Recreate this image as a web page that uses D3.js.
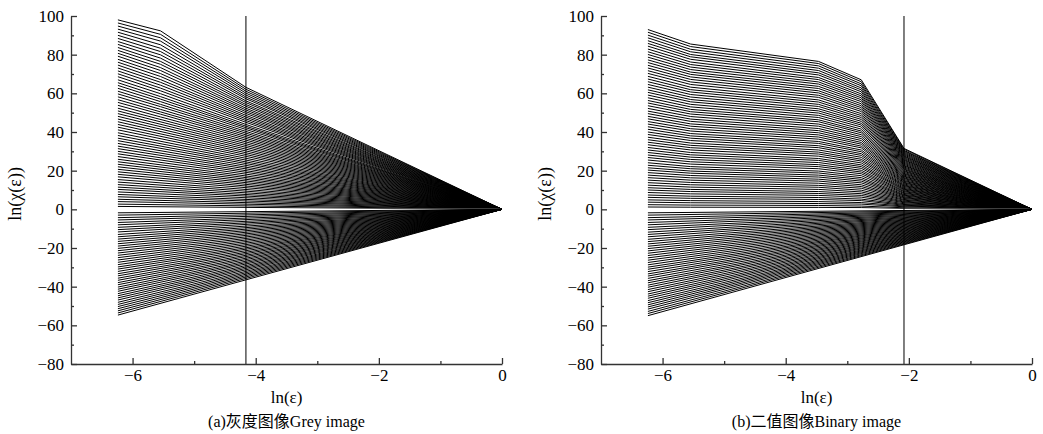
<!DOCTYPE html>
<html><head><meta charset="utf-8">
<script src="https://cdn.jsdelivr.net/npm/d3@7"></script>
<style>
body{margin:0;background:#fff;}
svg text{font-family:"Liberation Serif","Times New Roman",serif;fill:#000;}
</style></head><body>
<svg id="chart" width="1043" height="434"></svg>
<script>
// box sizes: ln(eps) = ln(1/512) ... ln(1/1)
const lnEpsKnots = [-6.238, -5.545, -4.852, -4.159, -3.466, -2.773, -2.079, -1.386, -0.693, 0];

// ---- (a) Grey image: value of each curve at ln(eps) = -6.238 (top to bottom)
const greyLeft = [
  98.0, 96.4, 94.8, 93.2, 91.6, 90.0, 88.4, 86.8, 85.3, 83.7,
  82.2, 80.7, 79.2, 77.6, 76.1, 74.6, 73.1, 71.6, 70.1, 68.6,
  67.0, 65.5, 64.1, 62.6, 61.1, 59.7, 58.2, 56.7, 55.3, 53.8,
  52.3, 50.9, 49.5, 48.1, 46.7, 45.3, 43.9, 42.5, 41.1, 39.6,
  38.2, 36.8, 35.5, 34.1, 32.7, 31.4, 30.0, 28.7, 27.3, 25.9,
  24.6, 23.3, 22.0, 20.7, 19.4, 18.1, 16.8, 15.4, 14.1, 12.8,
  11.5, 10.3, 9.0, 7.7, 6.5, 5.2, 4.0, 2.7, 1.5,
  0.0,
  -1.8, -3.0, -4.3, -5.5, -6.8, -8.0, -9.3, -10.5, -11.7, -13.0,
  -14.2, -15.4, -16.6, -17.8, -19.0, -20.2, -21.4, -22.6, -23.8, -25.0,
  -26.2, -27.4, -28.6, -29.8, -30.9, -32.1, -33.3, -34.4, -35.6, -36.7,
  -37.9, -39.0, -40.2, -41.3, -42.4, -43.6, -44.7, -45.8, -46.9, -48.1,
  -49.2, -50.3, -51.4, -52.5, -53.6, -54.7
];
// bent upper curves: values at ln(eps) = -5.545 and -4.159
const greyAt555 = [92.3, 90.5, 88.7, 87.0, 85.1, 83.3, 81.6, 79.9, 78.2, 76.5,
  75.0, 73.3, 71.8, 70.2, 68.7, 67.1, 65.7, 64.2, 62.7, 61.3,
  59.8, 58.3, 57.0, 55.7, 54.3, 53.1, 51.7, 50.4, 49.2, 47.8];
const greyAt416 = [63.1, 62.1, 61.1, 60.1, 59.1, 58.1, 57.2, 56.1, 55.2, 54.2,
  53.3, 52.3, 51.4, 50.5, 49.6, 48.6, 47.7, 46.8, 45.9, 45.0,
  43.9, 43.0, 42.2, 41.3, 40.3, 39.4, 38.5, 37.6, 36.7, 35.8];

// ---- (b) Binary image
const binaryLeft = [
  93.0, 91.6, 90.1, 88.7, 87.2, 85.8, 84.4, 82.9, 81.5, 80.1,
  78.7, 77.3, 75.9, 74.5, 73.1, 71.7, 70.3, 68.8, 67.4, 66.0,
  64.6, 63.2, 61.8, 60.5, 59.1, 57.7, 56.3, 55.0, 53.6, 52.2,
  50.8, 49.5, 48.1, 46.8, 45.4, 44.1, 42.7, 41.4, 40.0, 38.7,
  37.3, 36.0, 34.7, 33.4, 32.0, 30.7, 29.4, 28.1, 26.8, 25.5,
  24.1, 22.8, 21.5, 20.3, 19.0, 17.7, 16.4, 15.1, 13.8, 12.5,
  11.2, 10.0, 8.7, 7.4, 6.2, 4.9, 3.7, 2.4, 1.2,
  0.0,
  -1.8, -3.0, -4.3, -5.5, -6.8, -8.0, -9.3, -10.5, -11.8, -13.0,
  -14.2, -15.5, -16.7, -17.9, -19.1, -20.3, -21.5, -22.7, -23.9, -25.1,
  -26.3, -27.5, -28.7, -29.9, -31.0, -32.2, -33.4, -34.5, -35.7, -36.9,
  -38.0, -39.2, -40.3, -41.5, -42.6, -43.8, -44.9, -46.0, -47.2, -48.3,
  -49.4, -50.5, -51.6, -52.8, -53.9, -55.0
];
const binaryAt555 = [85.5, 84.2, 82.8, 81.5, 80.1, 78.9, 77.6, 76.2, 74.9, 73.6,
  72.3, 71.0, 69.8, 68.5, 67.2, 65.9, 64.6, 63.2, 61.9, 60.7,
  59.4, 58.1, 56.8, 55.6, 54.3, 53.0, 51.7, 50.5, 49.3, 48.0,
  46.7, 45.5, 44.2, 43.0, 41.7, 40.5, 39.2, 38.0, 36.8, 35.6,
  34.3, 33.1, 31.9, 30.7, 29.4, 28.2, 27.0, 25.8, 24.6, 23.4,
  22.1, 21.0, 19.8, 18.7, 17.5, 16.3, 15.1, 13.9, 12.7, 11.5,
  10.3, 9.2, 8.0, 6.8, 5.7, 4.5, 3.4, 2.2, 1.1];
const binaryAt347 = [76.5, 75.4, 74.2, 73.0, 71.8, 70.6, 69.5, 68.2, 67.1, 65.9,
  64.8, 63.6, 62.5, 61.3, 60.2, 59.0, 57.9, 56.6, 55.5, 54.3,
  53.2, 52.0, 50.9, 49.8, 48.6, 47.5, 46.3, 45.3, 44.1, 43.0,
  41.8, 40.7, 39.6, 38.5, 37.4, 36.3, 35.1, 34.1, 32.9, 31.9,
  30.7, 29.6, 28.6, 27.5, 26.3, 25.3, 24.2, 23.1, 22.1, 21.0,
  19.8, 18.8, 17.7, 16.7, 15.6, 14.6, 13.5, 12.4, 11.4, 10.3,
  9.2, 8.2, 7.2, 6.1, 5.1, 4.0, 3.0, 2.0, 1.0];
const binaryAt277 = [67.0, 66.0, 64.9, 63.9, 62.8, 61.8, 60.8, 59.7, 58.7, 57.7,
  56.7, 55.7, 54.6, 53.6, 52.6, 51.6, 50.6, 49.5, 48.5, 47.5,
  46.5, 45.5, 44.5, 43.6, 42.6, 41.5, 40.5, 39.6, 38.6, 37.6,
  36.6, 35.6, 34.6, 33.7, 32.7, 31.8, 30.7, 29.8, 28.8, 27.9,
  26.9, 25.9, 25.0, 24.0, 23.0, 22.1, 21.2, 20.2, 19.3, 18.4,
  17.4, 16.4, 15.5, 14.6, 13.7, 12.7, 11.8, 10.9, 9.9, 9.0,
  8.1, 7.2, 6.3, 5.3, 4.5, 3.5, 2.7, 1.7, 0.9];
const binaryAt208 = [31.5, 31.1, 30.5, 30.1, 29.6, 29.1, 28.6, 28.1, 27.6, 27.2,
  26.7, 26.2, 25.7, 25.3, 24.8, 24.3, 23.8, 23.3, 22.8, 22.4,
  21.9, 21.4, 20.9, 20.5, 20.0, 19.6, 19.1, 18.6, 18.2, 17.7,
  17.2, 16.8, 16.3, 15.9, 15.4, 14.9, 14.5, 14.0, 13.6, 13.1,
  12.6, 12.2, 11.8, 11.3, 10.8, 10.4, 10.0, 9.5, 9.1, 8.6,
  8.2, 7.7, 7.3, 6.9, 6.4, 6.0, 5.6, 5.1, 4.7, 4.2,
  3.8, 3.4, 2.9, 2.5, 2.1, 1.7, 1.3, 0.8, 0.4];

// scale-break markers and axes
const cutoffGrey = -4.159;
const cutoffBinary = -2.079;
const xTicks = [-6, -4, -2, 0];
const xMinorTicks = [-5, -3, -1];
const yTicks = [-80, -60, -40, -20, 0, 20, 40, 60, 80, 100];
const yMinorTicks = [-70, -50, -30, -10, 10, 30, 50, 70, 90];
const captions = ["(a)灰度图像Grey image", "(b)二值图像Binary image"];

const K = lnEpsKnots;
function greyCurves() {
  return greyLeft.map((v, i) => {
    const pts = [[K[0], v]];
    if (i < greyAt555.length) { pts.push([K[1], greyAt555[i]]); pts.push([K[3], greyAt416[i]]); }
    pts.push([K[9], 0]);
    return {pts, zero: v === 0};
  });
}
function binaryCurves() {
  return binaryLeft.map((v, i) => {
    const pts = [[K[0], v]];
    if (i < binaryAt555.length) {
      pts.push([K[1], binaryAt555[i]]);
      pts.push([K[4], binaryAt347[i]]);
      pts.push([K[5], binaryAt277[i]]);
      pts.push([K[6], binaryAt208[i]]);
    }
    pts.push([K[9], 0]);
    return {pts, zero: v === 0};
  });
}

const svg = d3.select("#chart");
svg.append("rect").attr("width", 1043).attr("height", 434).attr("fill", "#fff");

const panels = [
  {left: 71, right: 502, curves: greyCurves(), cut: cutoffGrey, cap: captions[0], ytitleX: 21},
  {left: 601, right: 1032, curves: binaryCurves(), cut: cutoffBinary, cap: captions[1], ytitleX: 551}
];
const plotTop = 16, plotBottom = 364;

panels.forEach(p => {
  const x = d3.scaleLinear().domain([-7, 0]).range([p.left, p.right]);
  const y = d3.scaleLinear().domain([-80, 100]).range([plotBottom, plotTop]);
  const g = svg.append("g");
  const line = d3.line().x(d => x(d[0])).y(d => y(d[1]));

  const lg = g.append("g");
  p.curves.forEach(c => {
    lg.append("path").attr("d", line(c.pts)).attr("fill", "none")
      .attr("stroke", c.zero ? "#fff" : "#000")
      .attr("stroke-width", c.zero ? 1.3 : 1);
  });

  // vertical scale-break line
  g.append("line").attr("x1", x(p.cut)).attr("x2", x(p.cut))
    .attr("y1", y(100)).attr("y2", y(-80)).attr("stroke", "#000").attr("stroke-width", 1);

  // axes
  const fmt = d3.format("d");
  const yAx = g.append("g").attr("transform", `translate(${p.left},0)`)
    .call(d3.axisLeft(y).tickValues(yTicks).tickSizeInner(-6).tickSizeOuter(0).tickPadding(7).tickFormat(fmt));
  const yMin = g.append("g").attr("transform", `translate(${p.left},0)`)
    .call(d3.axisLeft(y).tickValues(yMinorTicks).tickSizeInner(-3).tickSizeOuter(0).tickFormat(""));
  yMin.select(".domain").remove();
  const xAx = g.append("g").attr("transform", `translate(0,${plotBottom})`)
    .call(d3.axisBottom(x).tickValues(xTicks).tickSizeInner(-6).tickSizeOuter(0).tickPadding(5).tickFormat(fmt));
  const xMin = g.append("g").attr("transform", `translate(0,${plotBottom})`)
    .call(d3.axisBottom(x).tickValues(xMinorTicks).tickSizeInner(-3).tickSizeOuter(0).tickFormat(""));
  xMin.select(".domain").remove();
  [yAx, yMin, xAx, xMin].forEach(a => {
    a.selectAll("path,line").attr("stroke", "#333").attr("stroke-width", 1.3);
    a.selectAll("text").attr("font-size", 17).attr("font-family", '"Liberation Serif", serif').attr("fill", "#000");
  });

  // titles
  const cx = (p.left + p.right) / 2;
  g.append("text").attr("x", cx).attr("y", 403).attr("text-anchor", "middle")
    .attr("font-size", 17).text("ln(ε)");
  g.append("text").attr("x", cx).attr("y", 427).attr("text-anchor", "middle")
    .attr("font-size", 16)
    .style("font-family", '"Liberation Serif", "Noto Sans CJK SC", serif').text(p.cap);
  g.append("text").attr("transform", `translate(${p.ytitleX},${y(8)}) rotate(-90)`)
    .attr("text-anchor", "middle").attr("font-size", 18).text("ln(χ(ε))");
});
</script>
</body></html>
